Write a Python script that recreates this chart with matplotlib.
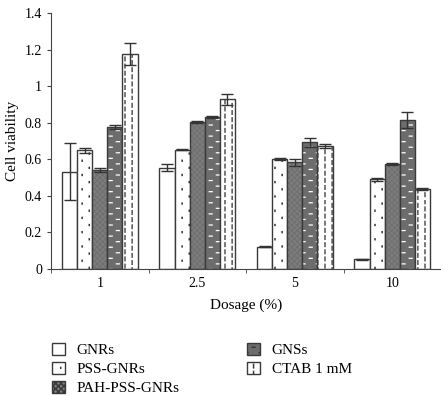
import numpy as np
import matplotlib.pyplot as plt
from matplotlib import hatch as mhatch
from matplotlib.path import Path
from matplotlib.patches import Patch

plt.rcParams['font.family'] = ['Liberation Serif', 'DejaVu Serif']


# small staggered marks (dots / dashes) as custom hatch patterns
class Marks(mhatch.HatchPatternBase):
    char = None
    ncols = 14
    nrows = 14
    seg = (0.0, 0.01)

    def __init__(self, hatch, density):
        self.on = hatch.count(self.char) > 0
        self.num_vertices = self.ncols * self.nrows if self.on else 0

    def set_vertices_and_codes(self, vertices, codes):
        pts = []
        for i in range(self.ncols):
            for j in range(self.nrows):
                if (i + j) % 2 == 0:
                    cx = (i + 0.5) / self.ncols
                    cy = (j + 0.5) / self.nrows
                    pts.append((cx - self.seg[0] / 2, cy - self.seg[1] / 2))
                    pts.append((cx + self.seg[0] / 2, cy + self.seg[1] / 2))
        vertices[:] = pts
        codes[0::2] = Path.MOVETO
        codes[1::2] = Path.LINETO


class Dots(Marks):
    char = 'd'
    ncols, nrows, seg = 14, 14, (0.0, 0.008)


class HDash(Marks):
    char = 'h'
    ncols, nrows, seg = 14, 18, (0.03, 0.0)


class VDash(Marks):
    char = 'v'
    ncols, nrows, seg = 14, 28, (0.0, 0.035)


mhatch._hatch_types.extend([Dots, HDash, VDash])

dosages = ['1', '2.5', '5', '10']
series = ['GNRs', 'PSS-GNRs', 'PAH-PSS-GNRs', 'GNSs', 'CTAB 1 mM']
gnrs = [0.532, 0.554, 0.122, 0.053]
pss_gnrs = [0.649, 0.652, 0.601, 0.490]
pah_pss_gnrs = [0.540, 0.805, 0.583, 0.574]
gnss = [0.778, 0.829, 0.693, 0.815]
ctab = [1.175, 0.928, 0.674, 0.436]
gnrs_err = [0.155, 0.02, 0.004, 0.003]
pss_gnrs_err = [0.012, 0.003, 0.004, 0.01]
pah_pss_gnrs_err = [0.01, 0.006, 0.02, 0.005]
gnss_err = [0.012, 0.005, 0.025, 0.045]
ctab_err = [0.06, 0.03, 0.012, 0.006]

values = [gnrs, pss_gnrs, pah_pss_gnrs, gnss, ctab]
errors = [gnrs_err, pss_gnrs_err, pah_pss_gnrs_err, gnss_err, ctab_err]

# face colour, hatch, hatch colour, hatch linewidth
styles = [
    ('white', '', '#444444', 1.0),
    ('white', 'd', '#333333', 1.1),
    ('#7c7c7c', 'xxxxxx', '#6c6c6c', 0.5),
    ('#6c6c6c', 'h', 'white', 0.9),
    ('white', 'v', '#555555', 1.1),
]
edge = '#3a3a3a'

fig = plt.figure(figsize=(4.41, 3.96), dpi=100)
ax = fig.add_axes([51 / 441, 127 / 396, 390 / 441, 256 / 396])

x = np.arange(len(dosages))
w = 0.155
for i, (vals, errs) in enumerate(zip(values, errors)):
    pos = x + (i - 2) * w
    fc, hatch, hc, hlw = styles[i]
    plt.rcParams['hatch.linewidth'] = hlw
    ax.bar(pos, vals, w, color=fc, edgecolor=hc, hatch=hatch, linewidth=0)
    ax.bar(pos, vals, w, color='none', edgecolor=edge, linewidth=1.0)
    ax.errorbar(pos, vals, yerr=errs, fmt='none', ecolor='#333333',
                elinewidth=1.0, capsize=4, capthick=1.0)

ax.set_xlim(-0.5, 3.5)
ax.set_ylim(0, 1.4)
ax.set_yticks(np.arange(0, 1.41, 0.2))
ax.set_yticklabels(['0', '0.2', '0.4', '0.6', '0.8', '1', '1.2', '1.4'])
ax.set_xticks(x)
ax.set_xticklabels(dosages)
ax.tick_params(axis='x', which='major', length=0, pad=6, labelsize=10)
ax.set_xticks([-0.5, 0.5, 1.5, 2.5], minor=True)
ax.tick_params(axis='x', which='minor', length=3, color='#444444')
ax.tick_params(axis='y', length=3, color='#444444', labelsize=10)
for s in ['top', 'right']:
    ax.spines[s].set_visible(False)
for s in ['left', 'bottom']:
    ax.spines[s].set_color('#444444')
ax.set_ylabel('Cell viability', fontsize=11)
ax.set_xlabel('Dosage (%)', fontsize=11, labelpad=6)

handles = []
for i, name in enumerate(series):
    fc, hatch, hc, hlw = styles[i]
    plt.rcParams['hatch.linewidth'] = hlw
    handles.append(Patch(facecolor=fc, edgecolor=edge, hatch=hatch, label=name))
fig.legend(handles=handles, loc='upper left', bbox_to_anchor=(0.105, 0.15),
           ncol=2, frameon=False, fontsize=11, handlelength=0.85,
           handleheight=0.85, handletextpad=0.75, columnspacing=4.4,
           labelspacing=0.3, borderaxespad=0)

fig.savefig('out.png', dpi=100)
